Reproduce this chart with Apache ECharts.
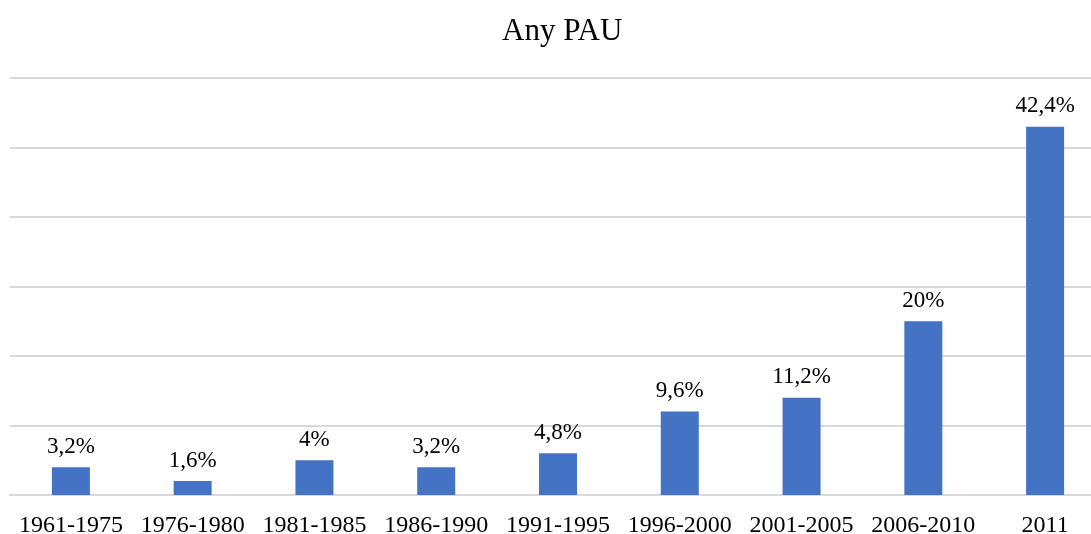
<!DOCTYPE html>
<html>
<head>
<meta charset="utf-8">
<script src="https://cdn.jsdelivr.net/npm/echarts@6/dist/echarts.min.js"></script>
<style>
  html, body { margin: 0; padding: 0; background: #fff; }
  #chart { width: 1091px; height: 534px; }
</style>
</head>
<body>
<div id="chart"></div>
<script>
var categories = ['1961-1975', '1976-1980', '1981-1985', '1986-1990', '1991-1995', '1996-2000', '2001-2005', '2006-2010', '2011']
var values = [3.2, 1.6, 4, 3.2, 4.8, 9.6, 11.2, 20, 42.4]
var valueLabels = ['3,2%', '1,6%', '4%', '3,2%', '4,8%', '9,6%', '11,2%', '20%', '42,4%']

var myChart = echarts.init(document.getElementById('chart'))
var option = {
  backgroundColor: '#ffffff',
  animation: false,
  title: {
    text: 'Any PAU',
    left: 497,
    top: 11,
    textStyle: {
      fontFamily: 'Liberation Serif',
      fontWeight: 'normal',
      fontSize: 31,
      color: '#000000'
    }
  },
  grid: {
    left: 10,
    top: 78,
    width: 1096,
    height: 417,
    containLabel: false,
    outerBoundsMode: 'none'
  },
  xAxis: {
    type: 'category',
    data: categories,
    axisTick: { show: false },
    axisLine: { lineStyle: { color: '#d9d9d9', width: 2 } },
    axisLabel: {
      margin: 19,
      fontFamily: 'Liberation Serif',
      fontSize: 24,
      color: '#000000',
      interval: 0
    }
  },
  yAxis: {
    type: 'value',
    min: 0,
    max: 48,
    interval: 8,
    axisLabel: { show: false },
    axisLine: { show: false },
    axisTick: { show: false },
    splitLine: { lineStyle: { color: '#d9d9d9', width: 2 } }
  },
  series: [{
    type: 'bar',
    data: values,
    barWidth: 38,
    itemStyle: { color: '#4472c4' },
    label: {
      show: true,
      position: 'top',
      distance: 9,
      fontFamily: 'Liberation Serif',
      fontSize: 23,
      color: '#000000',
      formatter: function (p) {
        return valueLabels[p.dataIndex]
      }
    }
  }]
}
myChart.setOption(option)
</script>
</body>
</html>
